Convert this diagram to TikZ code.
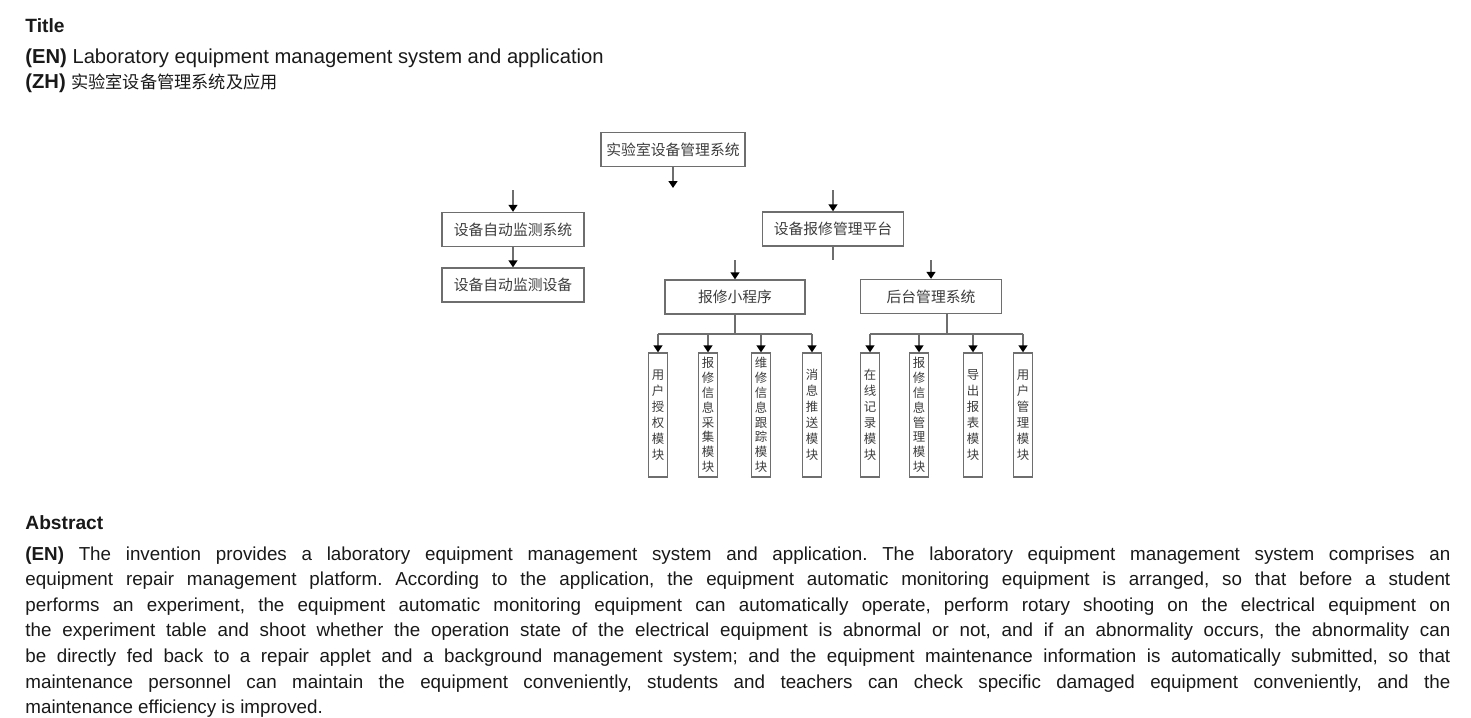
\documentclass[tikz,border=0pt]{standalone}
\usepackage{fontspec}
\setmainfont{Liberation Sans}
\newfontfamily\cjk{Noto Sans CJK SC}
\usetikzlibrary{arrows.meta}
\frenchspacing

\begin{document}
\begin{tikzpicture}[x=0.5pt,y=-0.5pt,
    txt/.style={inner sep=0pt,anchor=base west,text=black!90,font=\fontsize{9.4}{12.8}\selectfont},
    head/.style={txt,font=\fontsize{9.6}{12.8}\selectfont\bfseries},
    box/.style={draw=cLine,line width=0.7pt,inner sep=0pt,minimum height=17pt,text=cText,
      font=\cjk\fontsize{7.4}{9}\selectfont},
    vbox/.style={box,minimum width=9.5pt,minimum height=62pt,align=center,
      font=\cjk\fontsize{6.2}{8}\selectfont},
    vboxl/.style={vbox,font=\cjk\fontsize{6.2}{7.4}\selectfont},
    link/.style={draw=cLine,line width=0.7pt},
    arr/.style={link,-{Triangle[width=4.5pt,length=3.5pt,color=black]}}]
  \definecolor{cLine}{RGB}{110,110,110}
  \definecolor{cText}{RGB}{60,60,60}

  \useasboundingbox (0,0) rectangle (1471,717);

  % title block
  \node[head] (ttl) at (25,33) {Title};
  \node[txt,font=\fontsize{10.1}{12.8}\selectfont] (ten) at (25,64)
    {\textbf{(EN)} Laboratory equipment management system and application};
  \node[txt,font=\fontsize{10.1}{12.8}\selectfont] (tzh) at (25,89)
    {\textbf{(ZH)} {\cjk\fontsize{8.6}{10}\selectfont 实验室设备管理系统及应用}};

  % --- top level ---
  \node[box,minimum width=72pt] (sys) at (673,149.5) {实验室设备管理系统};
  \coordinate (t1) at (673,188);
  \draw[arr] (sys) -- (t1);

  % --- monitoring branch ---
  \coordinate (t2) at (513,190);
  \node[box,minimum width=71pt] (mon) at (513,229.5) {设备自动监测系统};
  \node[box,minimum width=71pt] (dev) at (513,285) {设备自动监测设备};
  \draw[arr] (t2) -- (mon);
  \draw[arr] (mon) -- (dev);

  % --- repair platform ---
  \coordinate (t3) at (833,190);
  \node[box,minimum width=70.5pt] (plat) at (833,229) {设备报修管理平台};
  \coordinate (p1) at (833,260);
  \draw[arr] (t3) -- (plat);
  \draw[link] (plat) -- (p1);

  \coordinate (t4) at (735,260);
  \coordinate (t5) at (931,260);
  \node[box,minimum width=70pt] (app) at (735,297) {报修小程序};
  \node[box,minimum width=70.5pt] (back) at (931,296.5) {后台管理系统};
  \draw[arr] (t4) -- (app);
  \draw[arr] (t5) -- (back);

  % applet modules
  \coordinate (lbus) at (735,334);
  \node[vbox]  (l1) at (658,415) {用\\户\\授\\权\\模\\块};
  \node[vboxl] (l2) at (708,415) {报\\修\\信\\息\\采\\集\\模\\块};
  \node[vboxl] (l3) at (761,415) {维\\修\\信\\息\\跟\\踪\\模\\块};
  \node[vbox]  (l4) at (812,415) {消\\息\\推\\送\\模\\块};
  \draw[link] (app) -- (app |- lbus);
  \draw[link] (l1 |- lbus) -- (l4 |- lbus);
  \foreach \i in {1,...,4}
    \draw[arr] (l\i |- lbus) -- (l\i);

  % background modules
  \coordinate (rbus) at (947,334);
  \node[vbox]  (r1) at (870,415) {在\\线\\记\\录\\模\\块};
  \node[vboxl] (r2) at (919,415) {报\\修\\信\\息\\管\\理\\模\\块};
  \node[vbox]  (r3) at (973,415) {导\\出\\报\\表\\模\\块};
  \node[vbox]  (r4) at (1023,415) {用\\户\\管\\理\\模\\块};
  \draw[link] (back.south -| rbus) -- (rbus);
  \draw[link] (r1 |- rbus) -- (r4 |- rbus);
  \foreach \i in {1,...,4}
    \draw[arr] (r\i |- rbus) -- (r\i);

  % abstract
  \node[head] (abs) at (25,529) {Abstract};
  \node[txt,text width=712.5pt,align=justify] (aen) at (25,560)
    {\hyphenpenalty=10000\textbf{(EN)} The invention provides a laboratory equipment management system and application. The laboratory equipment management system comprises an\linebreak
     equipment repair management platform. According to the application, the equipment automatic monitoring equipment is arranged, so that before a student\linebreak
     performs an experiment, the equipment automatic monitoring equipment can automatically operate, perform rotary shooting on the electrical equipment on\linebreak
     the experiment table and shoot whether the operation state of the electrical equipment is abnormal or not, and if an abnormality occurs, the abnormality can\linebreak
     be directly fed back to a repair applet and a background management system; and the equipment maintenance information is automatically submitted, so that\linebreak
     maintenance personnel can maintain the equipment conveniently, students and teachers can check specific damaged equipment conveniently, and the\linebreak
     maintenance efficiency is improved.};
\end{tikzpicture}
\end{document}
